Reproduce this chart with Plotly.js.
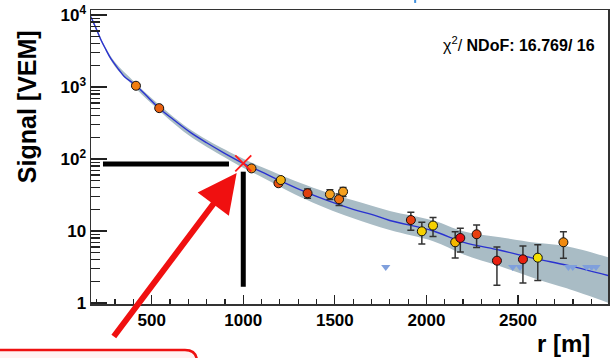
<!DOCTYPE html>
<html>
<head>
<meta charset="utf-8">
<script src="https://cdn.plot.ly/plotly-3.0.1.min.js"></script>
<style>html,body{margin:0;padding:0;background:#fff;}#chart{width:616px;height:358px;}</style>
</head>
<body>
<div id="chart"></div>
<script>
// ---- data ----
const stationR   = [414, 541, 1045, 1192, 1205, 1351, 1473, 1523, 1545, 1915, 1975, 2036, 2157, 2185, 2274, 2385, 2527, 2608, 2748];
const stationS   = [1040, 508, 74, 46, 51, 33.4, 32.3, 27.6, 35.2, 14.2, 9.9, 11.9, 6.97, 8.0, 9.0, 3.87, 4.04, 4.26, 6.97];
const stationErr = [30, 20, 3, 4, 4, 5, 5, 5, 5, 4, 3.3, 3.5, 2.75, 2.9, 3.1, 2.1, 2.15, 2.2, 2.8];
const pointColors = ['#f07d10','#e86010','#f08010','#e85010','#f5b010','#e04010','#f5a020','#f07010','#f5a020',
                     '#e84010','#f5d000','#f5d000','#f5b800','#e81010','#e84010','#e82010','#e82010','#f5e000','#f08a10'];
const silentR = [1778, 2471, 2511, 2775, 2799, 2875, 2902, 2926];
const silentS = [3.16, 3.16, 3.16, 3.16, 3.16, 3.16, 3.16, 3.16];

const fitR = [168, 200, 223, 250, 278, 320, 350, 414, 480, 541, 620, 715, 800, 896, 1000, 1100, 1200, 1309, 1450, 1600, 1700, 1800, 2037, 2200, 2402, 2600, 2766, 2992];
const fitS = [9400, 6200, 4500, 3300, 2450, 1750, 1400, 1050, 720, 505, 350, 230, 168, 121, 87, 66, 50, 37.5, 27, 20, 17, 14, 10.0, 7.0, 5.4, 4.1, 3.35, 2.4];

const bandR  = [168, 200, 240, 300, 400, 500, 700, 900, 1000, 1100, 1200, 1309, 1450, 1600, 1800, 2037, 2200, 2402, 2600, 2766, 2992];
const bandHi = [9850, 6500, 3900, 2200, 1215, 700, 268, 135, 100.5, 77.5, 60.6, 46.9, 34.9, 26.7, 19.0, 14.0, 9.95, 8.2, 6.84, 6.15, 4.3];
const bandLo = [8970, 5900, 3600, 1910, 1035, 585, 215, 104.7, 75.3, 56.2, 41.3, 30.0, 20.9, 15.0, 10.3, 7.2, 4.77, 3.24, 2.16, 1.6, 1.01];

const S1000R = [1000];
const S1000S = [87];

const yTickVals = [1, 10, 100, 1000, 10000];
const yTickText = ['1', '10', '10<sup>2</sup>', '10<sup>3</sup>', '10<sup>4</sup>'];
const xTickVals = [500, 1000, 1500, 2000, 2500];
const xTickText = ['500', '1000', '1500', '2000', '2500'];
const chiText = 'χ<sup>2</sup>/ <b>NDoF: 16.769/ 16</b>';

// ---- drawing ----
const yMinor = [];
for (let d = 1; d <= 1000; d *= 10) for (let k = 2; k <= 9; k++) yMinor.push(k * d);

const FONT = 'Liberation Sans, Arial, Helvetica, sans-serif';

const traces = [
  {x: bandR, y: bandLo, mode: 'lines', line: {width: 0, shape: 'spline', color: 'rgba(0,0,0,0)'}, hoverinfo: 'skip', showlegend: false},
  {x: bandR, y: bandHi, mode: 'lines', line: {width: 0, shape: 'spline', color: 'rgba(0,0,0,0)'}, fill: 'tonexty', fillcolor: '#a9bcc5', hoverinfo: 'skip', showlegend: false},
  {x: fitR, y: fitS, mode: 'lines', line: {color: '#2a32d0', width: 1.4, shape: 'spline'}, showlegend: false},
  {x: silentR, y: silentS, mode: 'markers', marker: {symbol: 'triangle-down', size: 8, color: '#7f9fdc'}, showlegend: false},
  {x: stationR, y: stationS, mode: 'markers',
   error_y: {type: 'data', array: stationErr, visible: true, color: '#333', thickness: 1.5, width: 3.5},
   marker: {size: 9, color: pointColors, line: {color: '#111', width: 1}}, showlegend: false},
  {x: S1000R, y: S1000S, mode: 'markers', marker: {symbol: 'x-thin-open', size: 16, color: '#ff1a1a', line: {color: '#ff1a1a', width: 1.8}}, showlegend: false}
];

const layout = {
  width: 616, height: 358,
  margin: {l: 91, r: 8, t: 10, b: 54},
  paper_bgcolor: '#fff', plot_bgcolor: '#fff',
  showlegend: false,
  font: {family: FONT, color: '#000'},
  xaxis: {
    range: [168.6, 2991.4], showgrid: false, zeroline: false,
    showline: true, mirror: true, linecolor: '#333', linewidth: 1.5,
    tickmode: 'array', tickvals: xTickVals, ticktext: xTickText,
    ticks: 'inside', ticklen: 9, tickwidth: 1.2, tickcolor: '#222',
    tickfont: {family: FONT, size: 17, weight: 'bold', color: '#000'},
    minor: {dtick: 100, tick0: 0, ticks: 'inside', ticklen: 5, tickwidth: 1.2, tickcolor: '#222', showgrid: false}
  },
  yaxis: {
    type: 'log', range: [-0.014, 4.069], showgrid: false, zeroline: false,
    showline: true, mirror: true, linecolor: '#333', linewidth: 1.5,
    tickmode: 'array', tickvals: yTickVals, ticktext: yTickText,
    ticks: 'inside', ticklen: 16, tickwidth: 1.2, tickcolor: '#222',
    tickfont: {family: FONT, size: 17, weight: 'bold', color: '#000'},
    minor: {tickmode: 'array', tickvals: yMinor, ticks: 'inside', ticklen: 9, tickwidth: 1.2, tickcolor: '#222', showgrid: false}
  },
  shapes: [
    {type: 'line', xref: 'x', yref: 'y', x0: 234, x1: 922, y0: 85, y1: 85, line: {color: '#000', width: 5}},
    {type: 'line', xref: 'x', yref: 'y', x0: 1000, x1: 1000, y0: 66.6, y1: 1.68, line: {color: '#000', width: 5}},
    {type: 'path', xref: 'paper', yref: 'paper',
     path: 'M -0.19,-0.22 L -0.19,-0.1565 L 0.1818,-0.1565 Q 0.205,-0.1565 0.205,-0.1973 L 0.205,-0.22 Z',
     fillcolor: '#fff2f2', line: {color: '#ee1111', width: 2.5}},
    {type: 'line', xref: 'paper', yref: 'paper', x0: 0.627, x1: 0.627, y0: 1.034, y1: 1.024, line: {color: '#3f8fdc', width: 2}}
  ],
  annotations: [
    {x: 964, y: Math.log10(64), xref: 'x', yref: 'y', text: '', showarrow: true,
     ax: -124, ay: 165, axref: 'pixel', ayref: 'pixel',
     arrowcolor: '#f01010', arrowwidth: 6, arrowhead: 2, arrowsize: 1.3, standoff: 0},
    {x: 0.979, y: 0.884, xref: 'paper', yref: 'paper', xanchor: 'right', yanchor: 'middle',
     text: chiText, showarrow: false, font: {family: FONT, size: 16, color: '#000'}},
    {x: -0.1238, y: 0.673, xref: 'paper', yref: 'paper', xanchor: 'center', yanchor: 'middle',
     text: '<b>Signal [VEM]</b>', textangle: -90, showarrow: false, font: {family: FONT, size: 25, color: '#000'}},
    {x: 0.913, y: -0.133, xref: 'paper', yref: 'paper', xanchor: 'center', yanchor: 'middle',
     text: '<b>r [m]</b>', showarrow: false, font: {family: FONT, size: 24, color: '#000'}}
  ]
};

Plotly.newPlot('chart', traces, layout, {staticPlot: true, displayModeBar: false});
</script>
</body>
</html>
